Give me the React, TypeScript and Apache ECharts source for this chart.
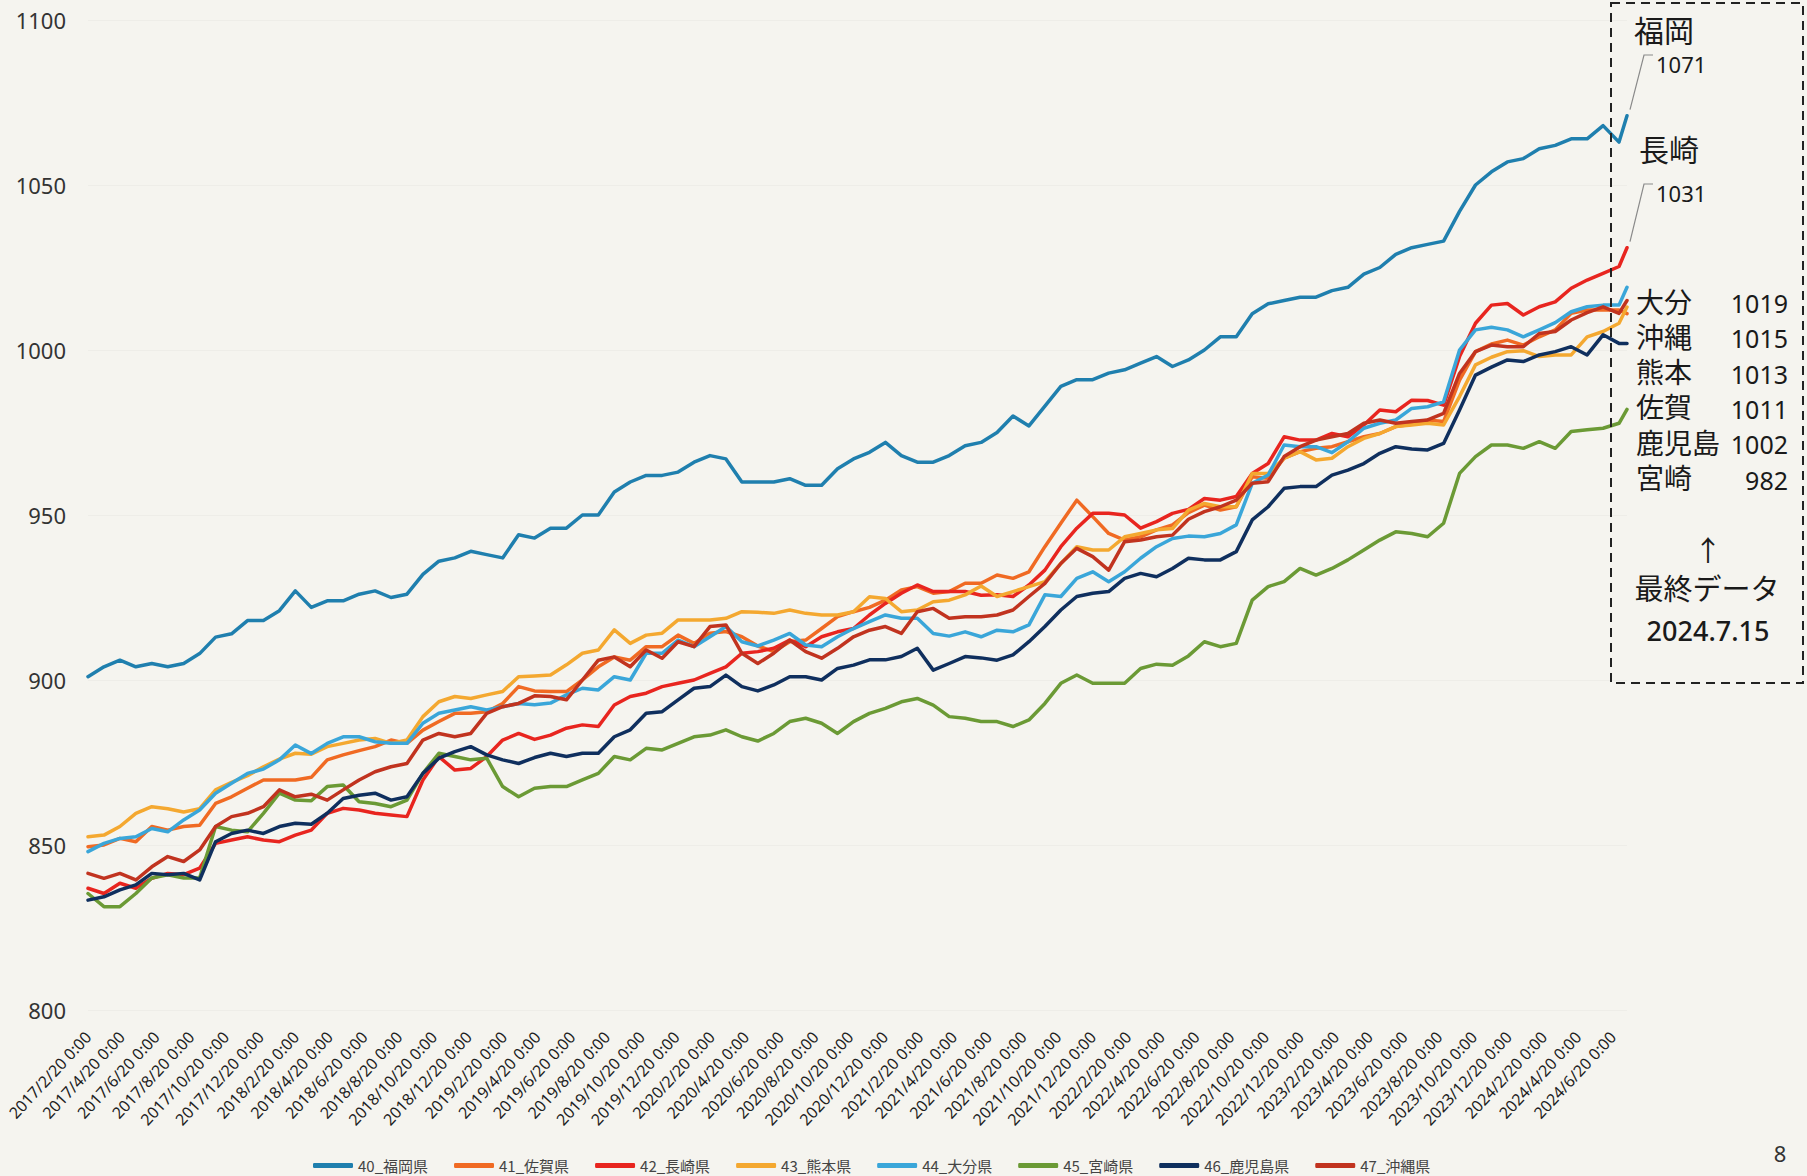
import React, { useEffect, useRef } from "react";
import * as echarts from "echarts";

// ---- x axis: daily dates from 2017/2/20 to 2024/7/15 ----
const START = Date.UTC(2017, 1, 20);
const DAY = 86400000;
const TOTAL_DAYS = 2702; // 2024/7/15
// values are read every 28 days, plus the final data date
const SAMPLE_DAYS: number[] = [];
for (let i = 0; i <= 96; i++) SAMPLE_DAYS.push(i * 28);
SAMPLE_DAYS.push(TOTAL_DAYS);

const Y_TICKS = [800, 850, 900, 950, 1000, 1050, 1100];

const SERIES_NAMES = ["40_福岡県", "41_佐賀県", "42_長崎県", "43_熊本県", "44_大分県", "45_宮崎県", "46_鹿児島県", "47_沖縄県"];
const SERIES_COLORS = ["#1f7fae", "#f06a23", "#e8251f", "#f4a830", "#3aa6d9", "#6b9a35", "#0f2f5e", "#c1331f"];

const fukuoka = [
  901, 904, 906, 904, 905, 904, 905, 908, 913, 914,
  918, 918, 921, 927, 922, 924, 924, 926, 927, 925,
  926, 932, 936, 937, 939, 938, 937, 944, 943, 946,
  946, 950, 950, 957, 960, 962, 962, 963, 966, 968,
  967, 960, 960, 960, 961, 959, 959, 964, 967, 969,
  972, 968, 966, 966, 968, 971, 972, 975, 980, 977,
  983, 989, 991, 991, 993, 994, 996, 998, 995, 997,
  1000, 1004, 1004, 1011, 1014, 1015, 1016, 1016, 1018, 1019,
  1023, 1025, 1029, 1031, 1032, 1033, 1042, 1050, 1054, 1057,
  1058, 1061, 1062, 1064, 1064, 1068, 1063, 1071,
];
const saga = [
  849.5, 850, 852, 851, 855.6, 854.5, 855.6, 856, 862.6, 864.6,
  867.2, 869.7, 869.7, 869.7, 870.5, 875.8, 877.3, 878.6, 879.8, 881.8,
  880.8, 884.8, 887.4, 889.9, 889.9, 890.4, 892.9, 898, 896.7, 896.5,
  896.5, 900, 904, 907, 906, 910.1, 910.1, 913.6, 911.1, 914.2,
  914.7, 913.1, 910.3, 908.6, 911.6, 912.1, 915.6, 919.2, 920.7, 922,
  924.2, 927.3, 928.3, 926.3, 926.8, 929.3, 929.3, 931.8, 930.8, 932.8,
  940.4, 947.5, 954.5, 949.5, 944.4, 942.4, 943.4, 945.5, 947, 950.7,
  953, 951.5, 952.5, 961.6, 961.1, 967.2, 969.2, 970.2, 970.7, 972.2,
  973.7, 974.7, 976.8, 977.5, 978.8, 978.3, 990.9, 999.5, 1001.8, 1003,
  1001.5, 1004, 1006.1, 1011.1, 1012.1, 1012.1, 1012.1, 1011,
];
const nagasaki = [
  836.9, 835.3, 838.4, 836.9, 839.9, 841.4, 841, 843, 850.5, 851.5,
  852.5, 851.5, 851, 853, 854.5, 859.6, 861.1, 860.6, 859.6, 859.1,
  858.6, 869.7, 876.8, 872.7, 873.2, 876.8, 881.8, 883.8, 882, 883.3,
  885.4, 886.4, 885.9, 892.4, 895, 896, 898, 899, 900, 902,
  904, 908.1, 908.6, 909.6, 912.1, 910.1, 913.1, 914.6, 915.6, 919.7,
  923.2, 926.3, 928.8, 926.8, 926.8, 926.8, 925.7, 925.8, 925.3, 928.8,
  933.3, 940.4, 946, 950.5, 950.5, 950, 946, 948, 950.5, 951.7,
  955, 954.5, 955.6, 962.6, 965.6, 973.7, 972.7, 972.7, 974.7, 973.7,
  977.3, 981.8, 981.3, 984.8, 984.7, 983.3, 998, 1008.1, 1013.6, 1014.1,
  1010.6, 1013.1, 1014.6, 1018.7, 1021.2, 1023.2, 1025.3, 1031,
];
const kumamoto = [
  852.5, 853, 855.6, 859.6, 861.6, 861, 860, 861, 866.7, 869,
  871, 873.7, 876, 877.8, 877.5, 879.8, 880.8, 881.8, 882.3, 880.8,
  881.8, 888.9, 893.4, 895, 894.4, 895.5, 896.5, 901, 901.2, 901.5,
  904.6, 908.1, 909.1, 915.2, 911.1, 913.6, 914.2, 918.2, 918.2, 918.2,
  918.7, 920.7, 920.5, 920.2, 921.2, 920.2, 919.7, 919.7, 920.7, 925.2,
  924.7, 920.7, 921.2, 923.7, 924.2, 925.8, 928.5, 925.3, 926.8, 928.3,
  929.8, 935.3, 940.4, 939.4, 939.4, 943.4, 944.4, 945.5, 945.9, 951.5,
  953.5, 952.5, 952.5, 962.6, 962.6, 967.2, 969.2, 966.7, 967.2, 970.7,
  973.2, 974.7, 976.8, 977.3, 977.8, 977.3, 985.9, 995.5, 997.8, 999.5,
  999.8, 998, 998.5, 998.5, 1004, 1005.6, 1008.1, 1013,
];
const oita = [
  848, 850.5, 852, 852.5, 855, 854, 857.6, 860.6, 865.7, 868.7,
  871.7, 873, 875.8, 880.3, 877.7, 880.8, 882.8, 882.8, 881.3, 880.8,
  880.8, 886.9, 889.9, 890.9, 891.9, 890.9, 891.9, 892.9, 892.5, 893,
  895.5, 897.5, 897, 901, 900, 908.1, 908.1, 912.1, 910.1, 913.1,
  916.2, 911.6, 910.3, 912.1, 914.1, 910.6, 910.1, 913.1, 915.6, 917.7,
  919.7, 918.7, 918.7, 914.1, 913.3, 914.6, 913.1, 915.1, 914.6, 916.7,
  925.8, 925.3, 930.8, 932.8, 929.8, 932.8, 936.9, 940.4, 942.9, 943.6,
  943.4, 944.4, 947, 959.6, 962.1, 971.2, 970.7, 970.7, 968.9, 972.2,
  976.3, 977.8, 978.8, 982.3, 982.8, 984.3, 1000, 1006.1, 1006.9, 1006.1,
  1004, 1006.1, 1008.3, 1011.6, 1013.1, 1013.6, 1013.6, 1019,
];
const miyazaki = [
  835.3, 831.3, 831.3, 835.3, 840, 841, 840, 840, 855.6, 854.5,
  854, 859.6, 865.7, 863.6, 863.4, 867.7, 868.2, 863.1, 862.6, 861.6,
  863.6, 871.7, 877.8, 876.8, 875.8, 876.3, 867.7, 864.6, 867.2, 867.7,
  867.7, 869.7, 871.7, 876.8, 875.8, 879.3, 878.8, 880.8, 882.8, 883.3,
  884.9, 882.8, 881.5, 883.8, 887.4, 888.4, 886.9, 883.8, 887.4, 889.9,
  891.4, 893.4, 894.4, 892.4, 888.9, 888.4, 887.4, 887.4, 885.9, 887.9,
  892.9, 899, 901.5, 899, 899, 899, 903.5, 904.8, 904.5, 907.3,
  911.6, 910.1, 911.1, 924.2, 928.3, 929.8, 933.8, 931.8, 933.8, 936.4,
  939.4, 942.4, 944.9, 944.4, 943.4, 947.5, 962.6, 967.7, 971.2, 971.2,
  970.2, 972.2, 970.2, 975.3, 975.8, 976.3, 977.8, 982,
];
const kagoshima = [
  833.3, 834.3, 836.4, 837.9, 841.4, 841, 841.4, 839.4, 851, 853.5,
  854.5, 853.5, 855.6, 856.6, 856.3, 859.6, 864.1, 865.1, 865.7, 863.6,
  864.6, 871.7, 876.3, 878.3, 879.8, 877.3, 875.8, 874.7, 876.5, 877.8,
  876.8, 877.8, 877.8, 882.8, 884.9, 889.9, 890.4, 894, 897.5, 898,
  901.5, 898, 896.7, 898.5, 901, 901, 900, 903.5, 904.5, 906.1,
  906.1, 907.1, 909.6, 903, 905, 907.1, 906.7, 906, 907.6, 911.6,
  916.2, 921.2, 925.3, 926.3, 926.8, 930.8, 932.3, 931.3, 933.8, 936.9,
  936.4, 936.4, 938.9, 948.5, 952.5, 958.1, 958.6, 958.6, 962.1, 963.6,
  965.6, 968.7, 970.7, 970, 969.7, 971.7, 981.8, 992.4, 994.8, 997,
  996.5, 998.5, 999.5, 1001, 998.5, 1004.6, 1002, 1002,
];
const okinawa = [
  841.4, 839.9, 841.4, 839.4, 843.4, 846.5, 845, 848.5, 855.6, 858.6,
  859.6, 861.6, 866.7, 864.6, 865.4, 863.6, 866.7, 869.7, 872.2, 873.7,
  874.7, 881.8, 883.8, 882.8, 883.8, 889.9, 891.9, 892.9, 895.2, 895,
  894, 900, 906, 907, 904, 909.1, 906.6, 911.6, 910.1, 916.2,
  916.7, 908.1, 905, 908.1, 912.1, 908.6, 906.6, 909.6, 913.1, 915.1,
  916.2, 914.1, 920.7, 921.7, 918.7, 919.2, 919.2, 919.7, 921.2, 925.3,
  929.3, 935.3, 939.9, 937.4, 933.3, 941.9, 942.4, 943.4, 943.9, 948.7,
  951, 952.5, 954.5, 959.6, 960.1, 967.7, 970.7, 972.7, 973.7, 974.7,
  977.8, 978.8, 977.8, 978.3, 978.8, 980.8, 992.9, 999.5, 1001.5, 1001,
  1001, 1005, 1005.6, 1009.1, 1011.3, 1013.1, 1011.1, 1015,
];
const SERIES_VALUES = [fukuoka, saga, nagasaki, kumamoto, oita, miyazaki, kagoshima, okinawa];

// annotation texts
const BOX_ROWS = [
  ["大分", "1019"],
  ["沖縄", "1015"],
  ["熊本", "1013"],
  ["佐賀", "1011"],
  ["鹿児島", "1002"],
  ["宮崎", "982"],
];

const CJK = '"Noto Sans CJK JP", "Noto Sans", sans-serif';
const CJK_TIGHT = '"Liberation Sans", "Noto Sans CJK JP", sans-serif';
const SANS = '"Noto Sans", "DejaVu Sans", sans-serif';

function dateOf(i: number) {
  return new Date(START + i * DAY);
}
const categories: string[] = [];
for (let i = 0; i <= TOTAL_DAYS; i++) {
  const d = dateOf(i);
  categories.push(`${d.getUTCFullYear()}/${d.getUTCMonth() + 1}/${d.getUTCDate()} 0:00`);
}

function expand(vals: number[]) {
  const arr: (number | null)[] = new Array(TOTAL_DAYS + 1).fill(null);
  SAMPLE_DAYS.forEach((d, k) => {
    arr[d] = vals[k];
  });
  return arr;
}

export default function App() {
  const ref = useRef<HTMLDivElement>(null);
  useEffect(() => {
    document.body.style.margin = "0";
    const chart = echarts.init(ref.current!, null, { renderer: "svg" });
    const option: any = {
      animation: false,
      backgroundColor: "#f5f4ef",
      grid: { left: 88, right: 180, top: 20, bottom: 166, containLabel: false },
      xAxis: {
        type: "category",
        data: categories,
        boundaryGap: false,
        axisLine: { show: false },
        axisTick: { show: false },
        splitLine: { show: false },
        axisLabel: {
          interval: (index: number) => {
            const d = dateOf(index);
            return d.getUTCDate() === 20 && (d.getUTCMonth() + 1) % 2 === 0;
          },
          rotate: 47,
          margin: 24,
          fontSize: 16,
          fontFamily: SANS,
          color: "#1e1e1e",
          hideOverlap: false,
        },
      },
      yAxis: {
        type: "value",
        min: Y_TICKS[0],
        max: Y_TICKS[Y_TICKS.length - 1],
        interval: 50,
        axisLine: { show: false },
        axisTick: { show: false },
        splitLine: { show: true, lineStyle: { color: "#eeede8", width: 1 } },
        axisLabel: {
          fontSize: 22,
          fontFamily: SANS,
          color: "#333",
          margin: 22,
          formatter: (v: number) => String(v),
        },
      },
      legend: {
        data: SERIES_NAMES,
        left: 308,
        top: 1153,
        icon: "roundRect",
        itemWidth: 40,
        itemHeight: 5,
        itemGap: 26,
        textStyle: { fontSize: 15, fontFamily: CJK, color: "#444" },
      },
      series: SERIES_NAMES.map((name, k) => ({
        name,
        type: "line",
        data: expand(SERIES_VALUES[k]),
        connectNulls: true,
        showSymbol: false,
        symbol: "none",
        color: SERIES_COLORS[k],
        lineStyle: { width: 3.5, color: SERIES_COLORS[k], join: "round", cap: "round" },
        emphasis: { disabled: true },
        z: 2 + k,
      })),
    };
    chart.setOption(option);

    const pF = chart.convertToPixel({ xAxisIndex: 0, yAxisIndex: 0 }, [TOTAL_DAYS, fukuoka[fukuoka.length - 1]]) as number[];
    const pN = chart.convertToPixel({ xAxisIndex: 0, yAxisIndex: 0 }, [TOTAL_DAYS, nagasaki[nagasaki.length - 1]]) as number[];

    const txt = (text: string, x: number, y: number, size: number, align = "left", font = CJK, weight = "normal") => ({
      type: "text",
      x,
      y,
      z: 100,
      style: { text, fill: "#1a1a1a", fontSize: size, fontFamily: font, fontWeight: weight, align, verticalAlign: "middle" },
    });

    const graphic: any[] = [
      {
        type: "rect",
        z: 90,
        shape: { x: 1611, y: 3, width: 192, height: 680 },
        style: { fill: "none", stroke: "#222", lineWidth: 2, lineDash: [9, 6] },
      },
      {
        type: "polyline",
        z: 95,
        shape: { points: [[pF[0] + 3, pF[1] - 6], [1644, 55], [1653, 55]] },
        style: { stroke: "#8a8a8a", lineWidth: 1.2, fill: "none" },
      },
      {
        type: "polyline",
        z: 95,
        shape: { points: [[pN[0] + 3, pN[1] - 6], [1644, 184], [1653, 184]] },
        style: { stroke: "#8a8a8a", lineWidth: 1.2, fill: "none" },
      },
      txt("福岡", 1634, 31, 30, "left", CJK_TIGHT),
      txt("1071", 1656, 64, 22, "left", SANS),
      txt("長崎", 1639, 150, 30, "left", CJK_TIGHT),
      txt("1031", 1656, 193, 22, "left", SANS),
      ...BOX_ROWS.flatMap((r, k) => [
        txt(r[0], 1636, 303 + k * 35.3, 28, "left", CJK_TIGHT),
        txt(r[1], 1788, 303 + k * 35.3, 25, "right", SANS),
      ]),
      txt("↑", 1708, 549, 28, "center", CJK),
      txt("最終データ", 1707, 590, 29, "center", CJK_TIGHT),
      txt("2024.7.15", 1708, 630, 27, "center", SANS, "500"),
      {
        type: "text",
        x: 1780,
        y: 1142,
        z: 100,
        style: { text: "8", fill: "#333", fontSize: 22, fontFamily: SANS, align: "center", verticalAlign: "top" },
      },
    ];
    chart.setOption({ graphic });
    return () => chart.dispose();
  }, []);
  return <div ref={ref} style={{ width: 1807, height: 1176 }} />;
}
